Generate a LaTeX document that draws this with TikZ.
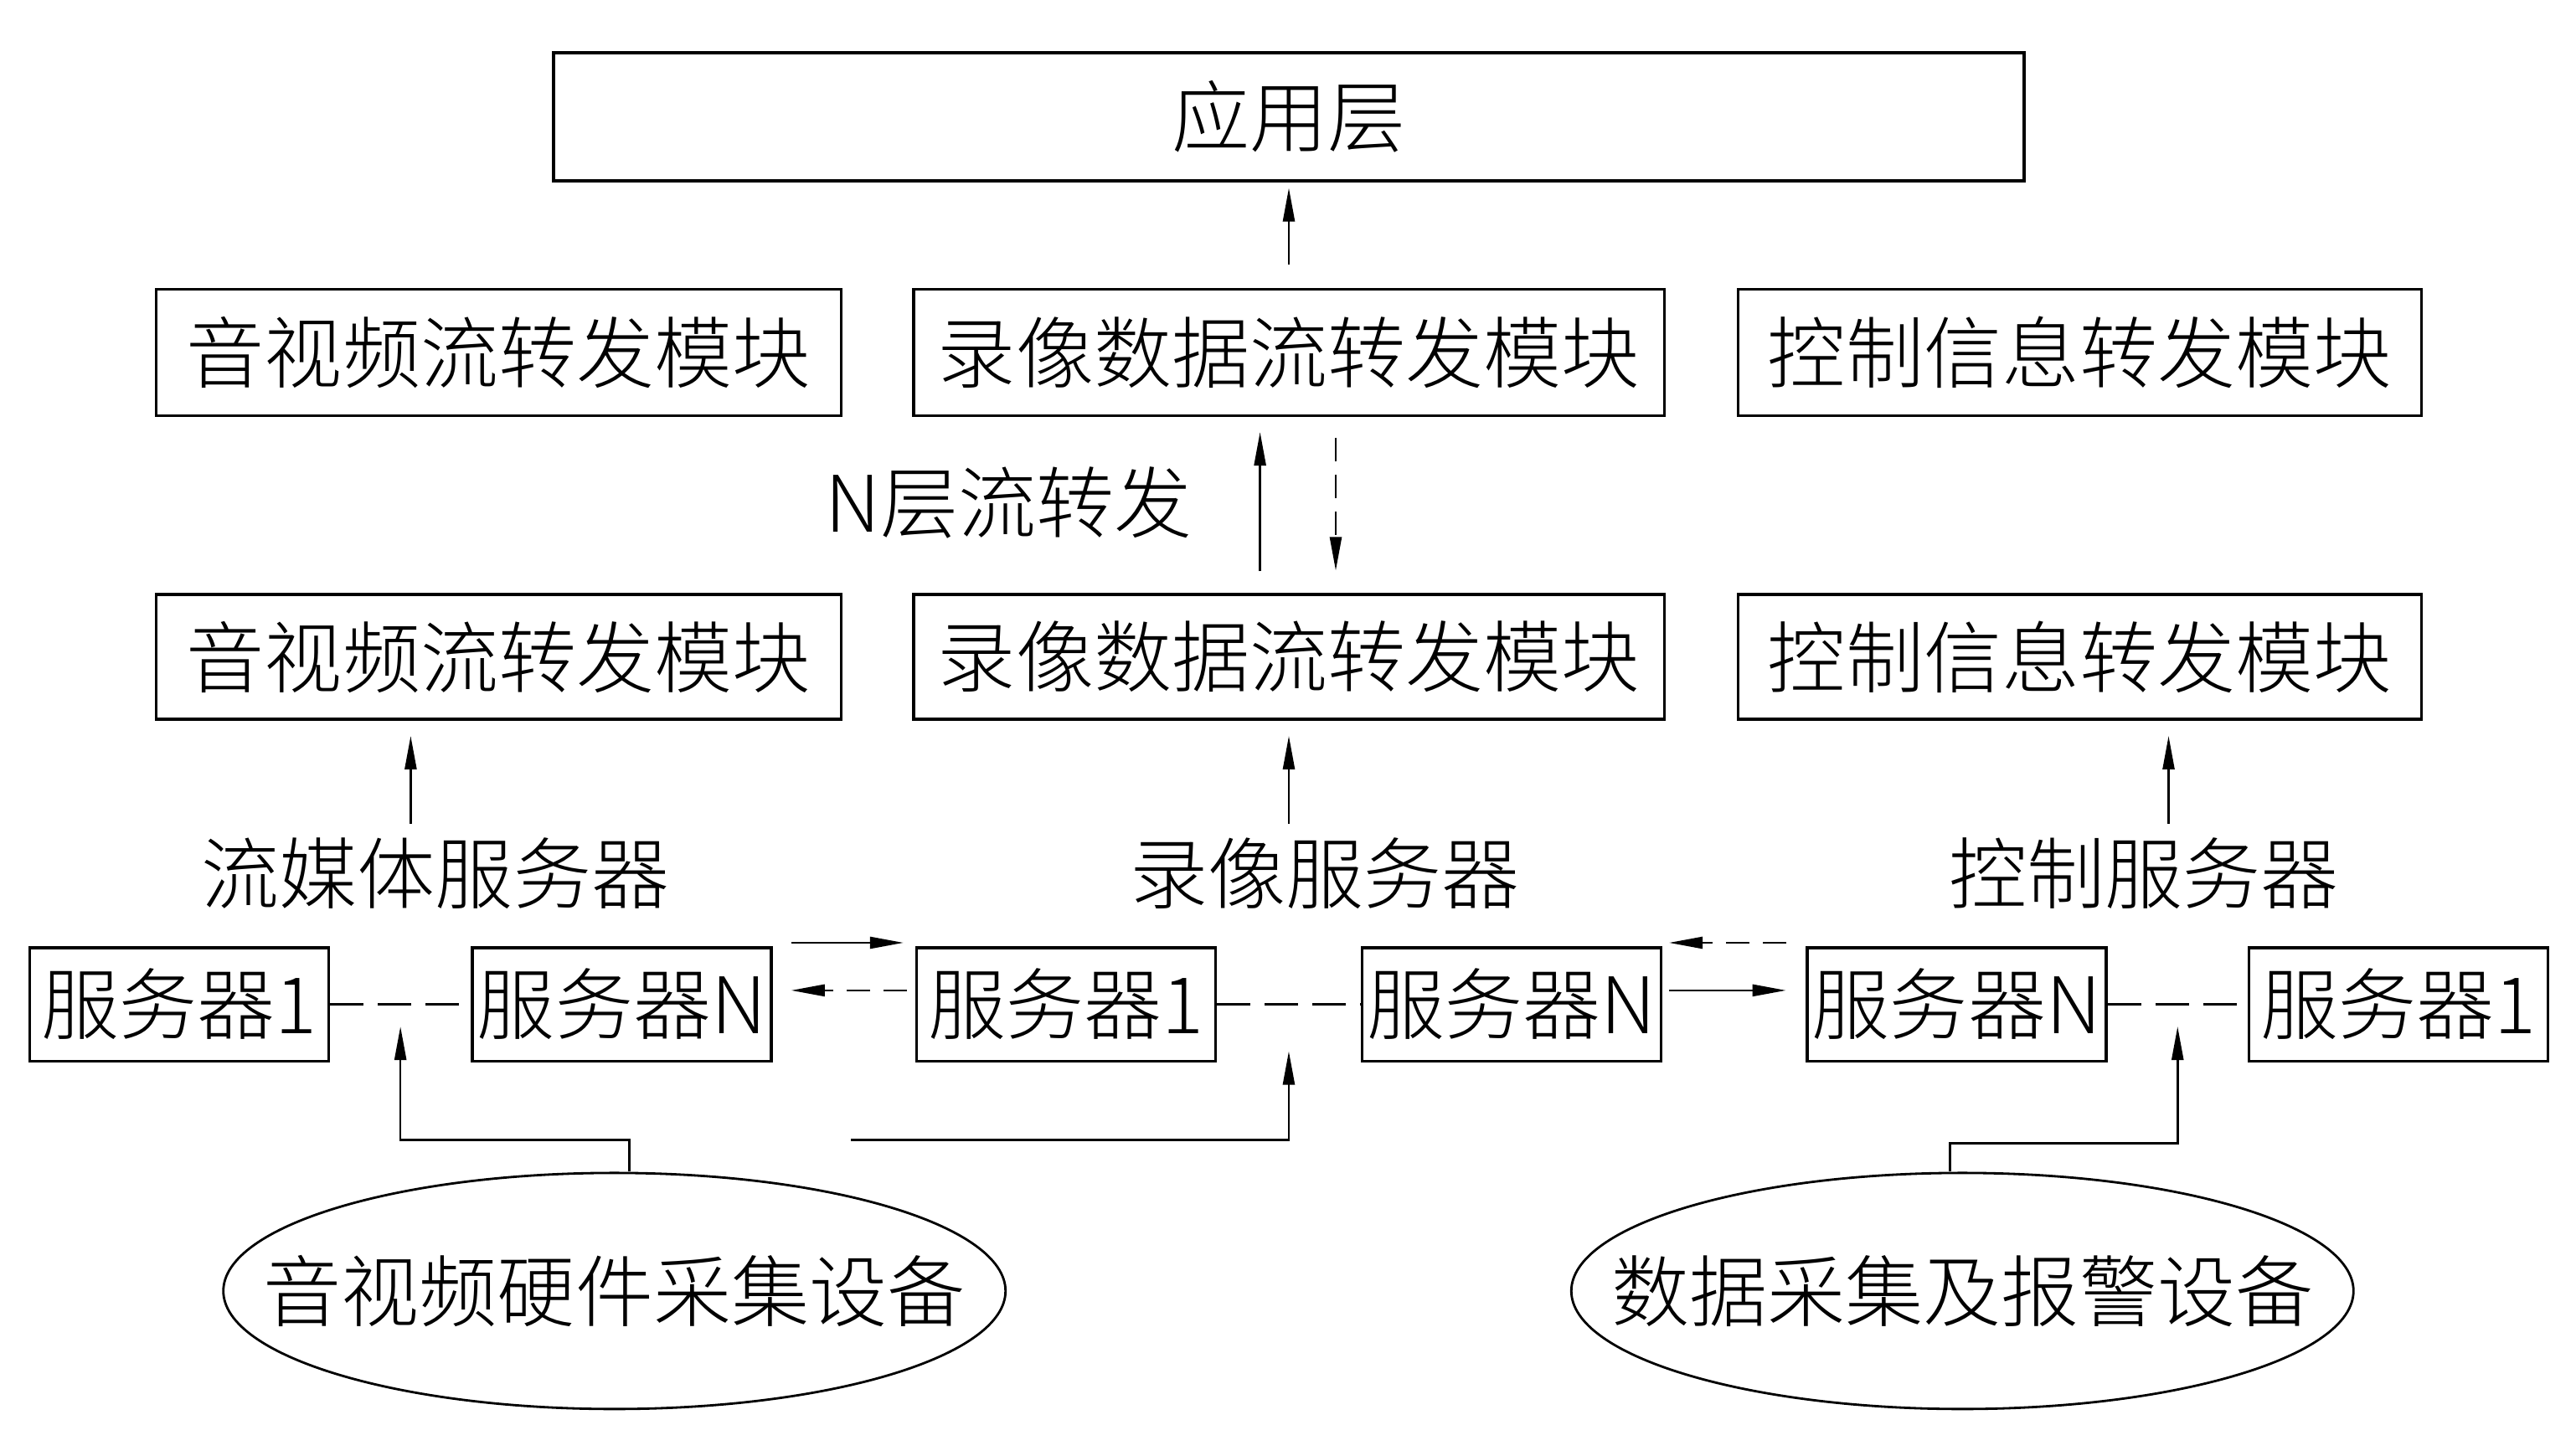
\documentclass[tikz,border=0pt]{standalone}
\usepackage{fontspec}
\setmainfont{Noto Sans CJK SC}[UprightFont=* Light]
\usetikzlibrary{shapes.geometric,calc,arrows.meta}
\definecolor{inkblack}{RGB}{0,0,0}

\begin{document}
\begin{tikzpicture}[
    font=\fontsize{26.5pt}{32pt}\selectfont,
    layerbox/.style={draw=inkblack, line width=1pt, inner sep=0pt, minimum height=1.51cm},
    serverbox/.style={draw=inkblack, line width=1pt, inner sep=0pt, minimum width=3.57cm, minimum height=1.354cm},
    device/.style={ellipse, draw=inkblack, line width=0.8pt, inner xsep=-1.5cm, inner ysep=0pt, minimum width=9.34cm, minimum height=2.82cm},
    tag/.style={inner sep=0pt, minimum height=1.18cm},
    flow/.style={draw=inkblack, line width=0.7pt, -{Triangle[length=0.4cm, width=0.14cm]}},
    flowdash/.style={flow, dash pattern=on 0.28cm off 0.16cm},
    link/.style={draw=inkblack, line width=0.8pt, dash pattern=on 0.4cm off 0.17cm}
]

% Page frame
\useasboundingbox (0,0) rectangle (30.76,-17.39);

% 1. APPLICATION LAYER
\node[layerbox, minimum width=17.56cm, minimum height=1.53cm] (app) at (15.39,-1.393) {应用层};

% 2. UPPER FORWARDING MODULES
\node[layerbox, minimum width=8.18cm] (avtop) at (5.954,-4.208) {音视频流转发模块};
\node[layerbox, minimum width=8.965cm] (rectop) at (15.39,-4.208) {录像数据流转发模块};
\node[layerbox, minimum width=8.16cm] (ctltop) at (24.835,-4.208) {控制信息转发模块};

% N-layer note
\node[tag] (nlayer) at (12.045,-6.003) {N层流转发};

% 3. LOWER FORWARDING MODULES
\node[layerbox, minimum width=8.18cm, minimum height=1.49cm] (avbot) at (5.954,-7.847) {音视频流转发模块};
\node[layerbox, minimum width=8.965cm, minimum height=1.49cm] (recbot) at (15.39,-7.847) {录像数据流转发模块};
\node[layerbox, minimum width=8.16cm, minimum height=1.49cm] (ctlbot) at (24.835,-7.847) {控制信息转发模块};

% 4. SERVER GROUP LABELS
\node[tag] (lblstream) at (5.199,-10.436) {流媒体服务器};
\node[tag] (lblrec) at (15.82,-10.436) {录像服务器};
\node[tag] (lblctl) at (25.6,-10.436) {控制服务器};

% 5. SERVERS
\node[serverbox] (sa1) at (2.138,-11.996) {服务器1};
\node[serverbox] (sa2) at (7.425,-11.996) {服务器N};
\node[serverbox] (sb1) at (12.731,-11.996) {服务器1};
\node[serverbox] (sb2) at (18.048,-11.996) {服务器N};
\node[serverbox] (sc2) at (23.364,-11.996) {服务器N};
\node[serverbox] (sc1) at (28.641,-11.996) {服务器1};

% 6. DEVICES
\node[device] (avdev) at (7.337,-15.419) {音视频硬件采集设备};
\node[device] (datadev) at (23.433,-15.419) {数据采集及报警设备};

% 7. LAYER ARROWS
\draw[flow, shorten <=0.28cm, shorten >=0.07cm] (rectop.north) -- (app.south);
\draw[flow, shorten <=0.26cm, shorten >=0.18cm] ([xshift=-0.344cm]recbot.north) -- ([xshift=-0.344cm]rectop.south);
\draw[flowdash, shorten <=0.245cm, shorten >=0.27cm] ([xshift=0.56cm]rectop.south) -- ([xshift=0.56cm]recbot.north);

% Label to module arrows
\draw[flow, shorten >=0.18cm] ($(avbot.south |- lblstream.north)+(-1.05,0)$) -- ($(avbot.south)+(-1.05,0)$);
\draw[flow, shorten >=0.18cm] (recbot.south |- lblrec.north) -- (recbot.south);
\draw[flow, shorten >=0.18cm] ($(ctlbot.south |- lblctl.north)+(1.06,0)$) -- ($(ctlbot.south)+(1.06,0)$);

% 8. SERVER LINKS
\draw[link] (sa1.east) -- (sa2.west);
\draw[link] (sb1.east) -- (sb2.west);
\draw[link] (sc2.east) -- (sc1.west);

\draw[flow, shorten <=0.22cm, shorten >=0.14cm] ([yshift=0.736cm]sa2.east) -- ([yshift=0.736cm]sb1.west);
\draw[flowdash, shorten <=0.1cm, shorten >=0.22cm] ([yshift=0.167cm]sb1.west) -- ([yshift=0.167cm]sa2.east);
\draw[flowdash, shorten <=0.235cm, shorten >=0.08cm] ([yshift=0.736cm]sc2.west) -- ([yshift=0.736cm]sb2.east);
\draw[flow, shorten <=0.08cm, shorten >=0.235cm] ([yshift=0.167cm]sb2.east) -- ([yshift=0.167cm]sc2.west);

% 9. DEVICE FEEDS
\coordinate (streamhub) at ($(sa1.east)!0.5!(sa2.west)$);
\coordinate (rechub) at ($(sb1.east)!0.5!(sb2.west)$);
\coordinate (ctlhub) at ($(sc2.east)!0.5!(sc1.west)$);
\coordinate (recfeed) at (10.16,-13.614);

\draw[flow] ([xshift=0.18cm]avdev.north) |- ([yshift=-1.618cm]streamhub) -- ([yshift=-0.265cm]streamhub);
\draw[flow] (recfeed) -| ([yshift=-0.56cm]rechub);
\draw[flow] ([xshift=-0.15cm]datadev.north) |- ([yshift=-1.657cm]ctlhub) -- ([yshift=-0.265cm]ctlhub);

\end{tikzpicture}
\end{document}
